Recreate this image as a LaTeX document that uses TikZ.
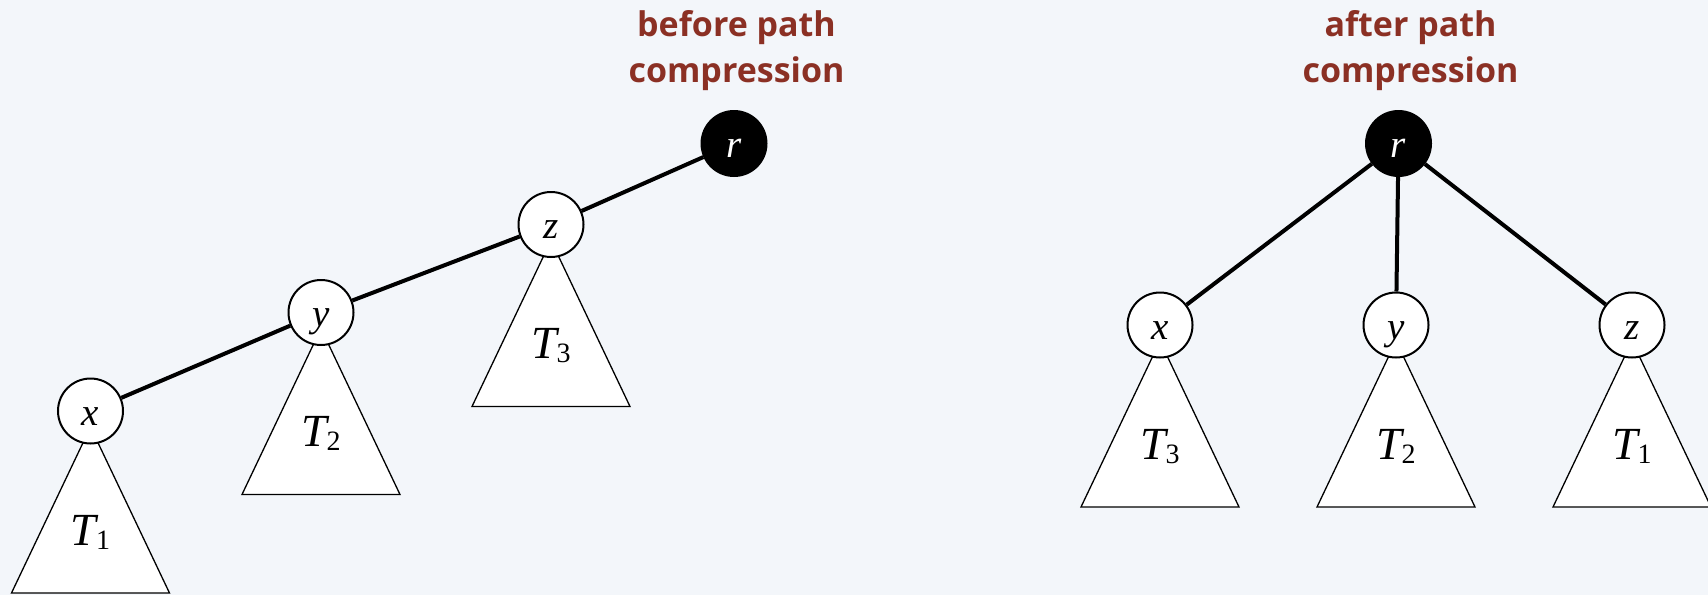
\documentclass[tikz,border=0pt]{standalone}
\usepackage{fontspec}
\setmainfont{Liberation Serif}
\newfontfamily\titlefont{Open Sans}
\usetikzlibrary{calc}
\definecolor{bgcol}{RGB}{243,246,250}
\definecolor{titlecol}{RGB}{139,48,36}
\newcommand\mysubtree[4]{%
  \draw[tri] (#1,#2+16) -- (#1-79,#2+182) -- (#1+79,#2+182) -- cycle;
  \node[tlabel] (#4) at (#1,#2+134) {\textit{T}\kern-1.5pt\raisebox{-2pt}{\fontsize{14}{14}\selectfont #3}};
}
\begin{document}
\begin{tikzpicture}[x=0.5pt,y=-0.5pt,
  vert/.style={circle,draw,line width=1pt,fill=white,minimum size=32.5pt,inner sep=0pt,
    text height=14pt,text depth=0pt,font=\fontsize{19.5}{19.5}\selectfont\itshape},
  rootv/.style={vert,fill=black,text=white},
  tri/.style={draw,line width=0.65pt,fill=white},
  edge/.style={line width=2pt},
  tlabel/.style={anchor=base,inner sep=0pt,font=\fontsize{23}{23}\selectfont},
  ttl/.style={text=titlecol,inner sep=0pt,font=\titlefont\bfseries\fontsize{17}{23}\selectfont,align=center}]
\fill[bgcol] (0,0) rectangle (1708,595);
\useasboundingbox (0,0) rectangle (1708,595);
% titles
\node[ttl,anchor=base] (tbefore) at (736.5,82) {before path\\compression};
\node[ttl,anchor=base] (tafter) at (1410.5,82) {after path\\compression};
% left subtrees
\mysubtree{90.5}{411}{1}{lT1}
\mysubtree{321}{312.5}{2}{lT2}
\mysubtree{551}{224.5}{3}{lT3}
% right subtrees
\mysubtree{1160}{325}{3}{rT3}
\mysubtree{1396}{325}{2}{rT2}
\mysubtree{1632}{325}{1}{rT1}
% left vertices
\node[vert] (lx) at (90.5,411) {x};
\node[vert] (ly) at (321,312.5) {y};
\node[vert] (lz) at (551,224.5) {z};
\node[rootv] (lr) at (734,143.5) {r};
% right vertices
\node[rootv] (rr) at (1398.5,143.5) {r};
\node[vert] (rx) at (1160,325) {x};
\node[vert] (ry) at (1396,325) {y};
\node[vert] (rz) at (1632,325) {z};
% edges
\draw[edge] (lx) -- (ly);
\draw[edge] (ly) -- (lz);
\draw[edge] (lz) -- (lr);
\draw[edge] (rr) -- (rx);
\draw[edge] (rr) -- (ry);
\draw[edge] (rr) -- (rz);
\end{tikzpicture}
\end{document}
